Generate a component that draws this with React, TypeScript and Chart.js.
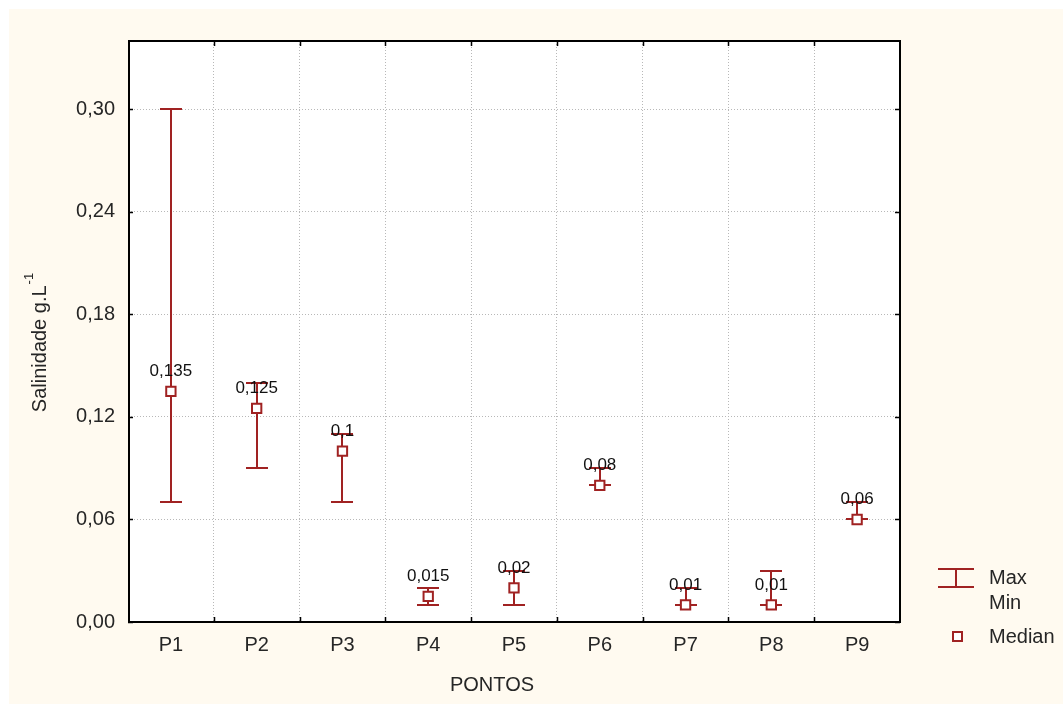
import React, { useEffect, useRef } from "react";
import { Chart, registerables } from "chart.js";

Chart.register(...registerables);

const categories = ["P1", "P2", "P3", "P4", "P5", "P6", "P7", "P8", "P9"];
const medians = [0.135, 0.125, 0.1, 0.015, 0.02, 0.08, 0.01, 0.01, 0.06];
const maxima = [0.3, 0.14, 0.11, 0.02, 0.03, 0.09, 0.02, 0.03, 0.07];
const minima = [0.07, 0.09, 0.07, 0.01, 0.01, 0.08, 0.01, 0.01, 0.06];
const medianLabels = ["0,135", "0,125", "0,1", "0,015", "0,02", "0,08", "0,01", "0,01", "0,06"];
const yTicks = [0, 0.06, 0.12, 0.18, 0.24, 0.3];
const yMin = 0;
const yMax = 0.34;

const W = 1055;
const H = 696;
const RED = "#a02222";
const CREAM = "#fffaf0";
const TEXT = "#262626";
const FONT = "'Liberation Sans', Arial, sans-serif";

const customPlugin = {
  id: "statisticaStyle",
  beforeDraw(chart: any) {
    const { ctx, chartArea: ca } = chart;
    ctx.save();
    ctx.fillStyle = "#ffffff";
    ctx.fillRect(0, 0, W, H);
    ctx.fillStyle = CREAM;
    ctx.fillRect(1, 1, W - 1, H - 1);
    ctx.fillStyle = "#ffffff";
    ctx.fillRect(ca.left, ca.top, ca.right - ca.left, ca.bottom - ca.top);
    ctx.restore();
  },
  beforeDatasetsDraw(chart: any) {
    const { ctx } = chart;
    const xs = chart.scales.x;
    const ys = chart.scales.y;
    ctx.save();
    ctx.strokeStyle = RED;
    ctx.lineWidth = 2;
    categories.forEach((_, i) => {
      const x = Math.round(xs.getPixelForValue(i));
      const yTop = Math.round(ys.getPixelForValue(maxima[i]));
      const yBot = Math.round(ys.getPixelForValue(minima[i]));
      ctx.beginPath();
      ctx.moveTo(x, yTop);
      ctx.lineTo(x, yBot);
      ctx.moveTo(x - 11, yTop);
      ctx.lineTo(x + 11, yTop);
      ctx.moveTo(x - 11, yBot);
      ctx.lineTo(x + 11, yBot);
      ctx.stroke();
    });
    ctx.restore();
  },
  afterDatasetsDraw(chart: any) {
    const { ctx, chartArea: ca } = chart;
    const xs = chart.scales.x;
    const ys = chart.scales.y;
    ctx.save();
    // value labels
    ctx.fillStyle = "#111111";
    ctx.font = `17px ${FONT}`;
    ctx.textAlign = "center";
    ctx.textBaseline = "middle";
    categories.forEach((_, i) => {
      const x = xs.getPixelForValue(i);
      const y = ys.getPixelForValue(medians[i]);
      ctx.fillText(medianLabels[i], x, y - 20);
    });
    // frame
    ctx.strokeStyle = "#000000";
    ctx.lineWidth = 2;
    ctx.strokeRect(ca.left + 1, ca.top, ca.right - ca.left - 1, ca.bottom - ca.top);
    // inward ticks
    ctx.lineWidth = 1.5;
    ctx.beginPath();
    for (let i = 1; i < categories.length; i++) {
      const x = Math.round((xs.getPixelForValue(i - 1) + xs.getPixelForValue(i)) / 2) + 0.5;
      ctx.moveTo(x, ca.bottom);
      ctx.lineTo(x, ca.bottom - 5);
      ctx.moveTo(x, ca.top);
      ctx.lineTo(x, ca.top + 5);
    }
    yTicks.forEach((v) => {
      const y = Math.round(ys.getPixelForValue(v)) + 0.5;
      ctx.moveTo(ca.left, y);
      ctx.lineTo(ca.left + 5, y);
      ctx.moveTo(ca.right, y);
      ctx.lineTo(ca.right - 5, y);
    });
    ctx.stroke();
    ctx.restore();
  },
  afterDraw(chart: any) {
    const { ctx, chartArea: ca } = chart;
    ctx.save();
    ctx.fillStyle = TEXT;
    ctx.font = `20px ${FONT}`;
    ctx.textBaseline = "middle";
    // x title
    ctx.textAlign = "center";
    ctx.fillText("PONTOS", 484, 677);
    // y title
    ctx.save();
    ctx.translate(32.5, 334.5);
    ctx.rotate(-Math.PI / 2);
    const main = "Salinidade g.L";
    const sup = "-1";
    ctx.font = `20px ${FONT}`;
    const mw = ctx.measureText(main).width;
    ctx.font = `13px ${FONT}`;
    const sw = ctx.measureText(sup).width;
    const total = mw + sw + 1;
    ctx.textAlign = "left";
    ctx.font = `20px ${FONT}`;
    ctx.fillText(main, -total / 2, 0);
    ctx.font = `13px ${FONT}`;
    ctx.fillText(sup, -total / 2 + mw + 1, -11);
    ctx.restore();
    // legend
    const lx = ca.right + 38;
    ctx.strokeStyle = RED;
    ctx.lineWidth = 2;
    ctx.beginPath();
    ctx.moveTo(lx, 561);
    ctx.lineTo(lx + 36, 561);
    ctx.moveTo(lx, 579);
    ctx.lineTo(lx + 36, 579);
    ctx.moveTo(lx + 18, 561);
    ctx.lineTo(lx + 18, 579);
    ctx.stroke();
    ctx.lineWidth = 2;
    ctx.fillStyle = "#ffffff";
    ctx.fillRect(lx + 15, 624, 9, 9);
    ctx.strokeRect(lx + 15, 624, 9, 9);
    ctx.fillStyle = TEXT;
    ctx.font = `20px ${FONT}`;
    ctx.textAlign = "left";
    ctx.fillText("Max", lx + 51, 570);
    ctx.fillText("Min", lx + 51, 595);
    ctx.fillText("Median", lx + 51, 629);
    ctx.restore();
  },
};

export default function App() {
  const ref = useRef<HTMLCanvasElement>(null);
  useEffect(() => {
    const chart = new Chart(ref.current as HTMLCanvasElement, {
      type: "line",
      data: {
        labels: categories,
        datasets: [
          {
            label: "Median",
            data: medians,
            showLine: false,
            pointStyle: "rect",
            pointRadius: 6.6,
            pointBackgroundColor: "#ffffff",
            pointBorderColor: RED,
            pointBorderWidth: 2,
          },
        ],
      },
      options: {
        responsive: false,
        animation: false,
        events: [],
        layout: { padding: { top: 33, right: 163, bottom: 0, left: 0 } },
        plugins: { legend: { display: false }, tooltip: { enabled: false } },
        scales: {
          x: {
            type: "category",
            offset: true,
            grid: { offset: true, color: "#b8b8b8", lineWidth: 1, drawTicks: false },
            border: { display: false, dash: [1, 2] },
            ticks: { color: TEXT, font: { family: FONT, size: 20 }, padding: 11, maxRotation: 0 },
            afterFit: (s: any) => {
              s.height = 82;
            },
          },
          y: {
            min: yMin,
            max: yMax,
            grid: { color: "#b8b8b8", lineWidth: 1, drawTicks: false },
            border: { display: false, dash: [1, 2] },
            afterBuildTicks: (s: any) => {
              s.ticks = yTicks.map((v) => ({ value: v }));
            },
            ticks: {
              color: TEXT,
              font: { family: FONT, size: 20 },
              padding: 13,
              callback: (v: any) => Number(v).toFixed(2).replace(".", ","),
            },
            afterFit: (s: any) => {
              s.width = 120;
            },
          },
        },
      },
      plugins: [customPlugin],
    });
    return () => chart.destroy();
  }, []);
  return (
    <div style={{ position: "absolute", left: 8, top: 8, width: W, height: H }}>
      <canvas ref={ref} width={W} height={H} style={{ width: W, height: H, display: "block" }} />
    </div>
  );
}
